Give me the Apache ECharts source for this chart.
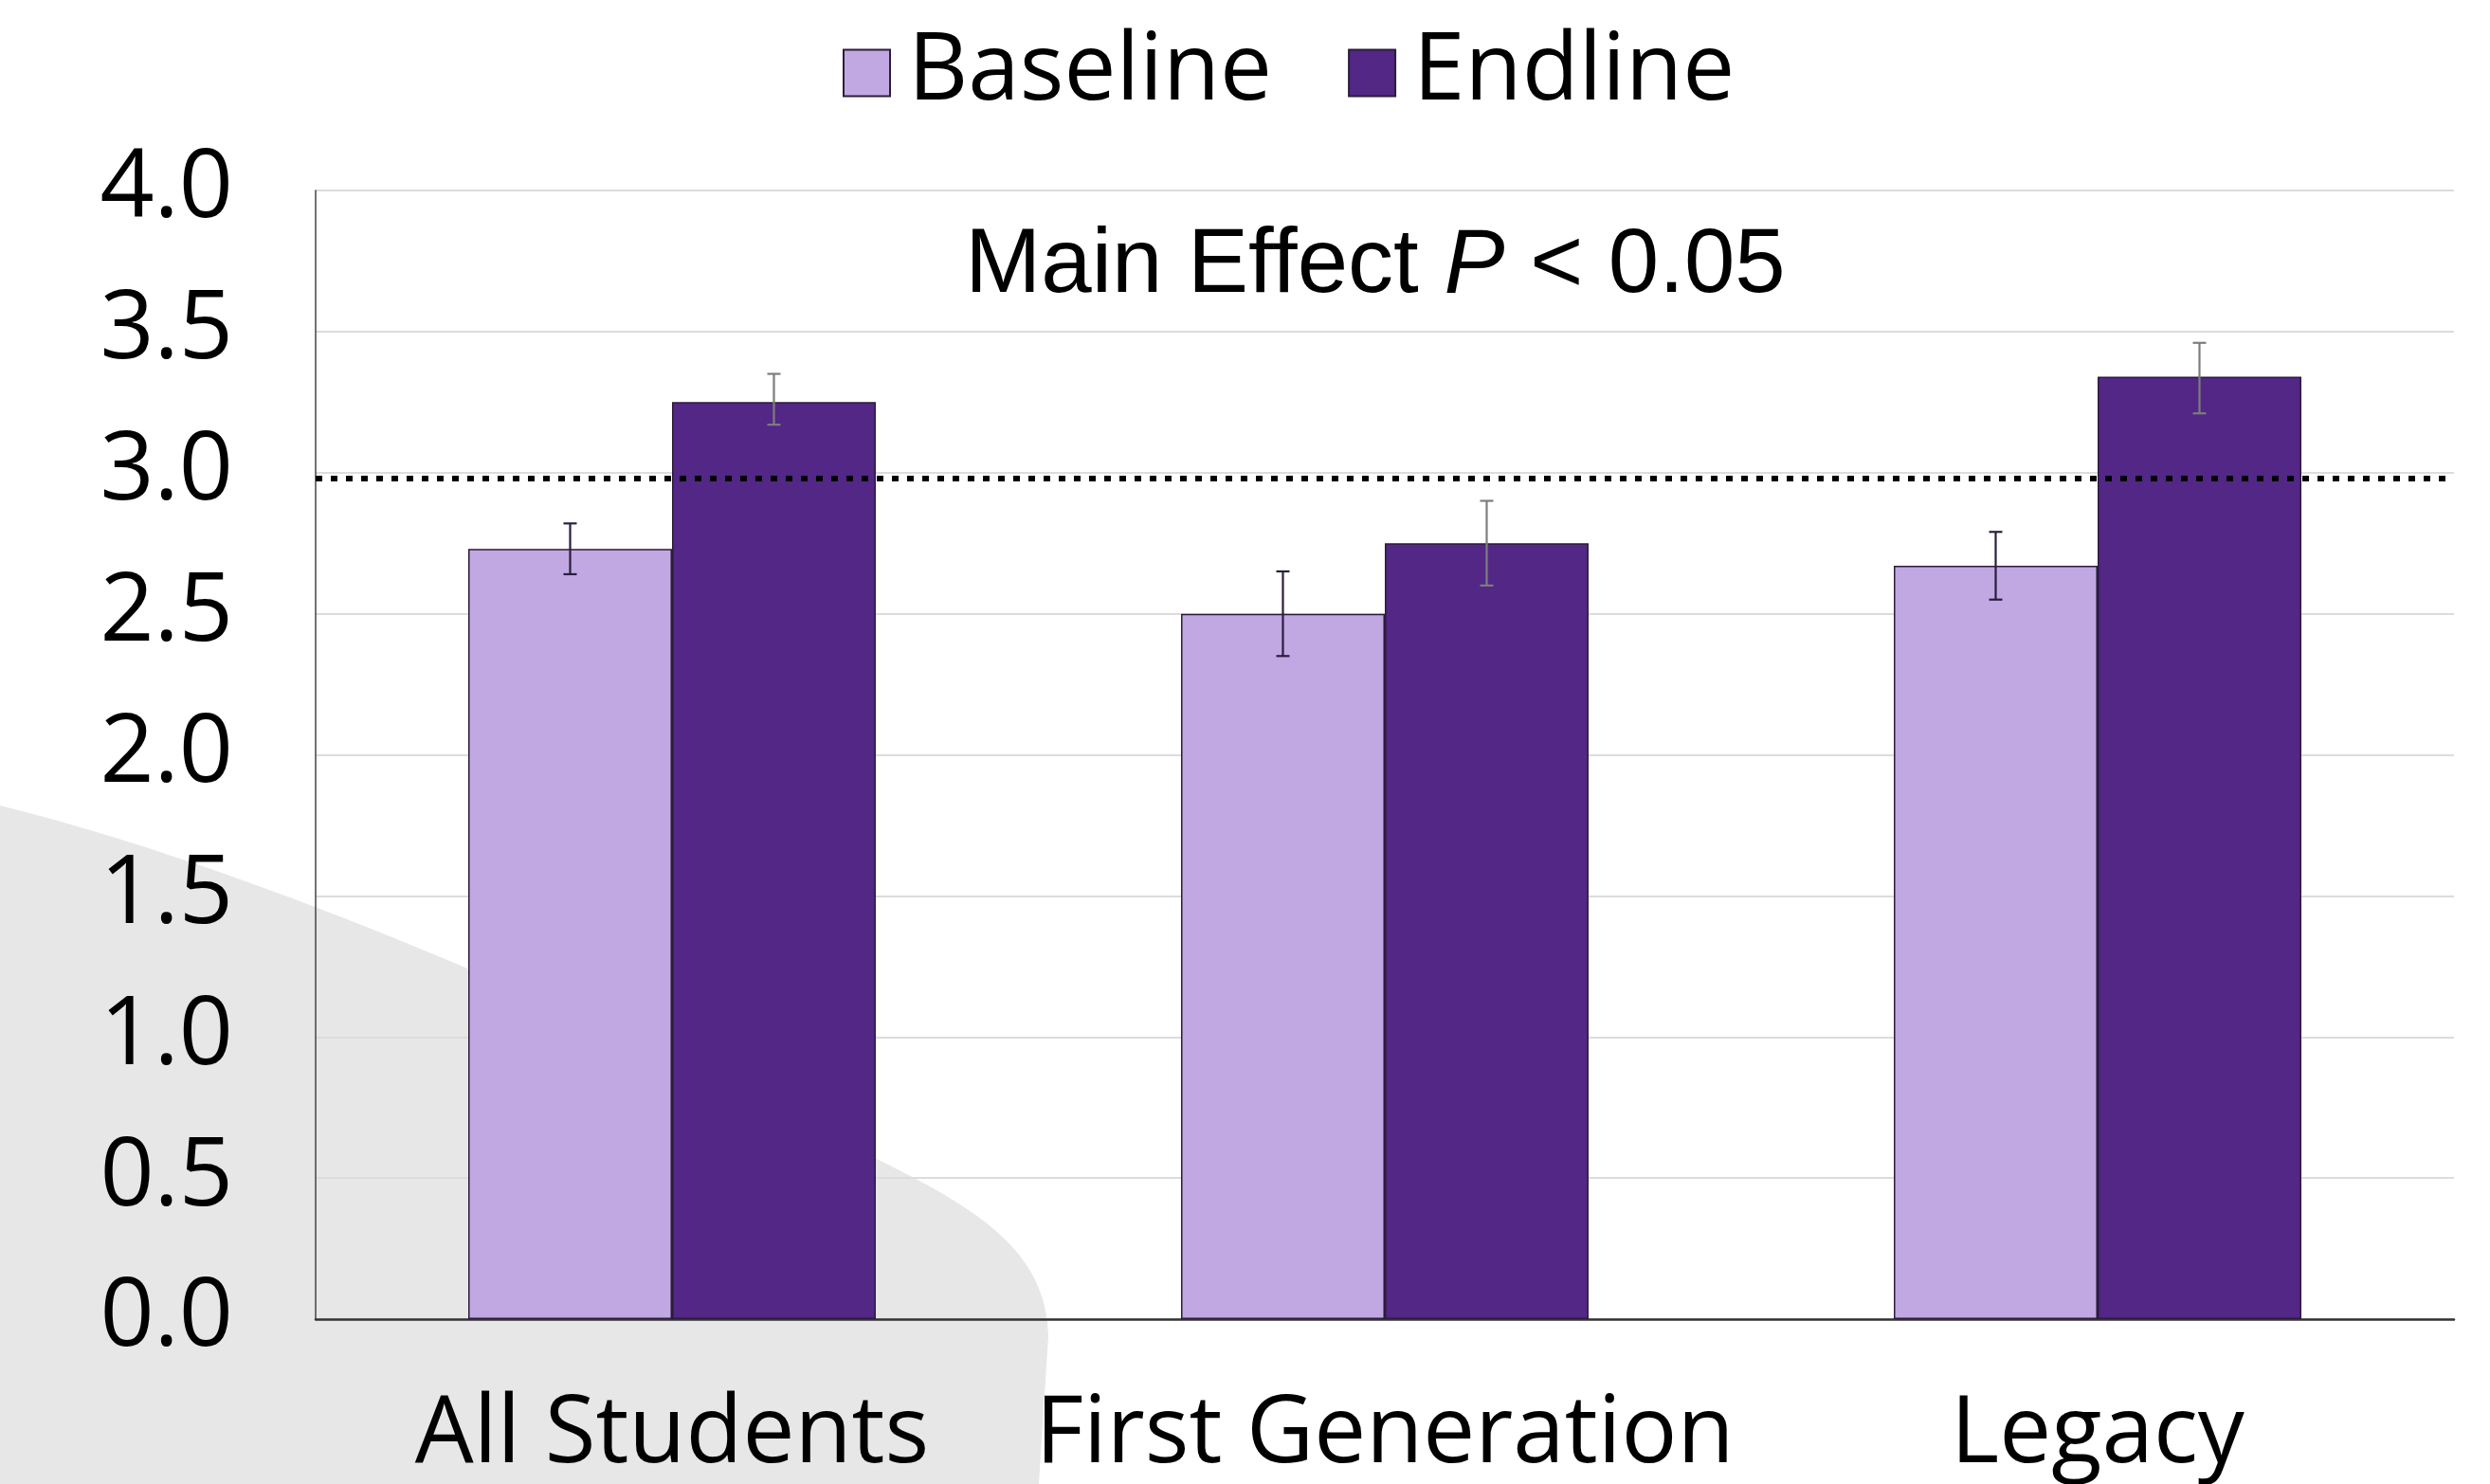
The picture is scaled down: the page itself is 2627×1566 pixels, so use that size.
<!DOCTYPE html>
<html>
<head>
<meta charset="utf-8">
<script src="https://cdn.jsdelivr.net/npm/echarts@6/dist/echarts.min.js"></script>
<style>
html,body{margin:0;padding:0;background:#fff;}
#chart{width:2627px;height:1566px;}
</style>
</head>
<body>
<div id="chart"></div>
<script>
// ---- data ----
const categories = ['All Students', 'First Generation', 'Legacy'];
const seriesNames = ['Baseline', 'Endline'];
const baselineValues = [2.73, 2.50, 2.67];
const endlineValues = [3.25, 2.75, 3.34];
const baselineErrLow = [2.64, 2.35, 2.55];
const baselineErrHigh = [2.82, 2.65, 2.79];
const endlineErrLow = [3.17, 2.60, 3.21];
const endlineErrHigh = [3.35, 2.90, 3.46];
const referenceValue = 2.98;
const yTicks = [0, 0.5, 1.0, 1.5, 2.0, 2.5, 3.0, 3.5, 4.0];
const annotation = ['Main Effect ', 'P', ' < 0.05'];

// ---- styling ----
const BAR_W = 215;
const COL_BASE = '#C1A8E3';
const COL_END = '#522786';
const FONT_LABEL = '"Open Sans", "Noto Sans", sans-serif';

// decorative background shape (watermark), sampled bezier outline
function cubic(p0, p1, p2, p3, n) {
  const pts = [];
  for (let i = 0; i <= n; i++) {
    const t = i / n, u = 1 - t;
    pts.push([
      u*u*u*p0[0] + 3*u*u*t*p1[0] + 3*u*t*t*p2[0] + t*t*t*p3[0],
      u*u*u*p0[1] + 3*u*u*t*p1[1] + 3*u*t*t*p2[1] + t*t*t*p3[1]
    ]);
  }
  return pts;
}
const bgPts = [].concat(
  cubic([0, 850], [300, 925], [650, 1085], [935, 1228], 30),
  cubic([935, 1228], [1040, 1280], [1104, 1325], [1106, 1410], 20),
  [[1096, 1566], [0, 1566]]
);

const chart = echarts.init(document.getElementById('chart'), null, {renderer: 'canvas'});

function errorRender(offsetSign, color) {
  return function (params, api) {
    const x = api.value(0);
    const pLo = api.coord([x, api.value(1)]);
    const pHi = api.coord([x, api.value(2)]);
    const cx = pLo[0] + offsetSign * BAR_W / 2;
    const cap = 7;
    const st = {stroke: color, lineWidth: 2.2};
    return {
      type: 'group',
      children: [
        {type: 'line', shape: {x1: cx, y1: pLo[1], x2: cx, y2: pHi[1]}, style: st},
        {type: 'line', shape: {x1: cx - cap, y1: pLo[1], x2: cx + cap, y2: pLo[1]}, style: st},
        {type: 'line', shape: {x1: cx - cap, y1: pHi[1], x2: cx + cap, y2: pHi[1]}, style: st}
      ]
    };
  };
}

const option = {
  animation: false,
  backgroundColor: 'transparent',
  graphic: [
    {
      type: 'polygon',
      z: -10,
      silent: true,
      shape: {points: bgPts},
      style: {fill: '#e7e7e7'}
    },
    {
      type: 'text',
      z: 10,
      x: 1451,
      y: 282,
      style: {
        text: '{a|' + annotation[0] + '}{p|' + annotation[1] + '}{a|' + annotation[2] + '}',
        align: 'center',
        verticalAlign: 'middle',
        rich: {
          a: {fontFamily: '"Liberation Sans", Arial, sans-serif', fontSize: 96, fill: '#000'},
          p: {fontFamily: '"Liberation Sans", Arial, sans-serif', fontSize: 96, fontStyle: 'italic', fill: '#000'}
        }
      }
    }
  ],
  legend: {
    data: seriesNames,
    left: 884,
    top: 23,
    itemWidth: 49,
    itemHeight: 49,
    itemGap: 80,
    icon: 'rect',
    itemStyle: {borderColor: '#2b1d3a', borderWidth: 2},
    textStyle: {fontFamily: FONT_LABEL, fontSize: 98, color: '#000', padding: [0, 0, 0, 14]}
  },
  grid: {left: 333, right: 38, top: 201, bottom: 174, containLabel: false},
  xAxis: {
    type: 'category',
    data: categories,
    axisTick: {show: false},
    axisLine: {lineStyle: {color: '#333', width: 2.5}},
    axisLabel: {fontFamily: FONT_LABEL, fontSize: 98, color: '#000', margin: 74, interval: 0}
  },
  yAxis: {
    type: 'value',
    min: yTicks[0],
    max: yTicks[yTicks.length - 1],
    interval: 0.5,
    axisLine: {show: true, lineStyle: {color: '#444', width: 1.5}},
    axisTick: {show: false},
    splitLine: {lineStyle: {color: '#dcdcdc', width: 2}},
    axisLabel: {
      fontFamily: FONT_LABEL, fontSize: 100, color: '#000', margin: 87,
      formatter: v => v.toFixed(1)
    }
  },
  series: [
    {
      name: seriesNames[0],
      type: 'bar',
      data: baselineValues,
      barWidth: BAR_W,
      barGap: '0%',
      itemStyle: {color: COL_BASE, borderColor: '#2b1d3a', borderWidth: 1.5},
      markLine: {
        silent: true,
        symbol: 'none',
        label: {show: false},
        lineStyle: {color: '#000', type: [7, 9], width: 6, cap: 'butt'},
        data: [{yAxis: referenceValue}],
        z: 5
      }
    },
    {
      name: seriesNames[1],
      type: 'bar',
      data: endlineValues,
      barWidth: BAR_W,
      barGap: '0%',
      itemStyle: {color: COL_END, borderColor: '#2b1d3a', borderWidth: 1.5}
    },
    {
      type: 'custom',
      name: 'errBase',
      z: 6,
      renderItem: errorRender(-1, '#2a1e3c'),
      data: categories.map((c, i) => [i, baselineErrLow[i], baselineErrHigh[i]]),
      encode: {x: 0, y: [1, 2]},
      silent: true
    },
    {
      type: 'custom',
      name: 'errEnd',
      z: 6,
      renderItem: errorRender(1, '#7d7d7d'),
      data: categories.map((c, i) => [i, endlineErrLow[i], endlineErrHigh[i]]),
      encode: {x: 0, y: [1, 2]},
      silent: true
    }
  ]
};
chart.setOption(option);
</script>
</body>
</html>
